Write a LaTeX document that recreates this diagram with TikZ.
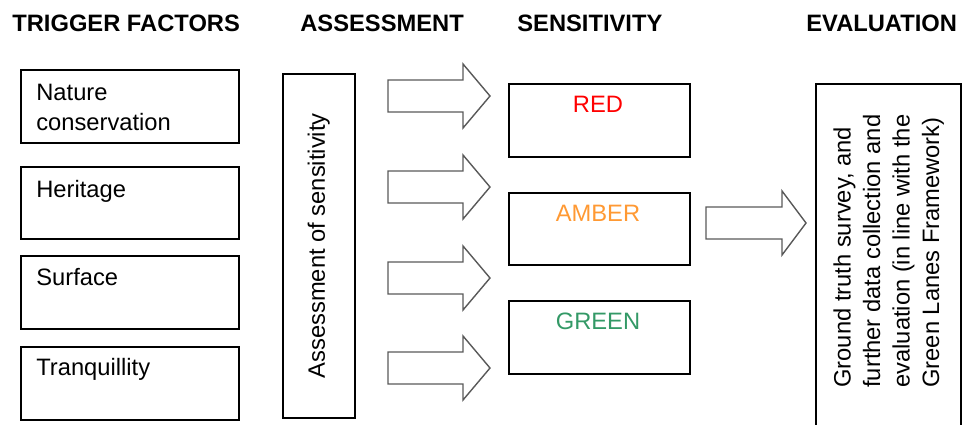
\documentclass[tikz,border=0pt]{standalone}
\usepackage{fontspec}
\setmainfont{Liberation Sans}

\definecolor{sensred}{HTML}{FF0000}
\definecolor{sensamber}{HTML}{FF9933}
\definecolor{sensgreen}{HTML}{339966}

\tikzset{
	heading/.style={font=\fontsize{13.5}{16}\selectfont\bfseries, anchor=base west, inner sep=0},
	box/.style={draw, line width=0.9pt, anchor=north west, inner sep=0},
	boxtext/.style={font=\fontsize{13.5}{16.8}\selectfont, align=left, anchor=north west, inner sep=0},
	senstext/.style={font=\fontsize{13.5}{16}\selectfont, anchor=base, inner sep=0},
	blockarrow/.style={draw=black!65, line width=0.8pt, line join=miter},
}

\begin{document}
\begin{tikzpicture}[x=0.02cm, y=-0.02cm]
	\useasboundingbox (0,0) rectangle (962,424);

	% column headings
	\node[heading] (htrig) at (12,31) {TRIGGER FACTORS};
	\node[heading] (hass) at (300,31) {ASSESSMENT};
	\node[heading] (hsens) at (517,31) {SENSITIVITY};
	\node[heading] (heval) at (806,31) {EVALUATION};

	% trigger factors
	\node[box, minimum width=4.36cm, minimum height=1.46cm] (nature) at (20,69) {};
	\node[box, minimum width=4.36cm, minimum height=1.44cm] (heritage) at (20,166) {};
	\node[box, minimum width=4.36cm, minimum height=1.46cm] (surface) at (20,255) {};
	\node[box, minimum width=4.36cm, minimum height=1.46cm] (tranq) at (20,346) {};
	\node[boxtext] (naturet) at (36,84) {Nature\\conservation};
	\node[boxtext] (heritaget) at (36,180) {Heritage};
	\node[boxtext] (surfacet) at (36,268) {Surface};
	\node[boxtext] (tranqt) at (36,358) {Tranquillity};

	% assessment
	\node[box, minimum width=1.44cm, minimum height=6.88cm] (assess) at (282,73) {};
	\node[boxtext, anchor=center, rotate=90] (assesst) at (assess.center) {Assessment of sensitivity};

	% arrows into the sensitivity classes
	\draw[blockarrow] (388,80) -- (463,80) -- (463,64) -- (490,96) -- (463,128) -- (463,112) -- (388,112) -- cycle;
	\draw[blockarrow] (388,171) -- (463,171) -- (463,155) -- (490,187) -- (463,219) -- (463,203) -- (388,203) -- cycle;
	\draw[blockarrow] (388,262) -- (463,262) -- (463,246) -- (490,278) -- (463,310) -- (463,294) -- (388,294) -- cycle;
	\draw[blockarrow] (388,352) -- (463,352) -- (463,336) -- (490,368) -- (463,400) -- (463,384) -- (388,384) -- cycle;

	% sensitivity
	\node[box, minimum width=3.62cm, minimum height=1.46cm] (red) at (508,83) {};
	\node[box, minimum width=3.62cm, minimum height=1.44cm] (amber) at (508,192) {};
	\node[box, minimum width=3.62cm, minimum height=1.46cm] (green) at (508,300) {};
	\node[senstext, text=sensred] (redt) at (598,112) {RED};
	\node[senstext, text=sensamber] (ambert) at (598,221) {AMBER};
	\node[senstext, text=sensgreen] (greent) at (598,329) {GREEN};

	\draw[blockarrow] (706,207) -- (782,207) -- (782,191) -- (806,223) -- (782,255) -- (782,239) -- (706,239) -- cycle;

	% evaluation
	\node[box, minimum width=2.9cm, minimum height=6.9cm] (eval) at (815,83) {};
	\node[boxtext, rotate=90] (evalt) at (833,388) {Ground truth survey, and\\further data collection and\\evaluation (in line with the\\Green Lanes Framework)};
\end{tikzpicture}
\end{document}
